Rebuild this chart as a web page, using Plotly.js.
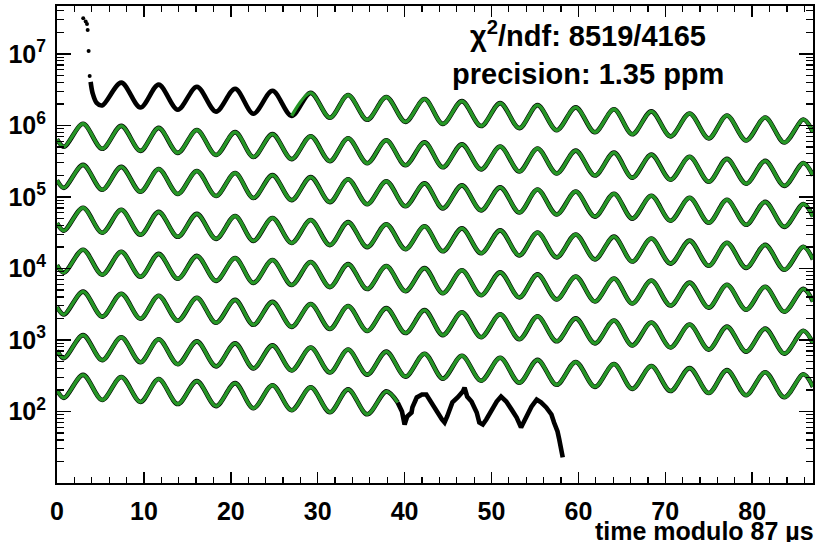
<!DOCTYPE html>
<html>
<head>
<meta charset="utf-8">
<script src="https://cdn.plot.ly/plotly-3.0.1.min.js"></script>
<style>html,body{margin:0;padding:0;background:#fff;}#chart{width:818px;height:542px;}</style>
</head>
<body>
<div id="chart"></div>
<script>
// ---- data (time in µs modulo 87, counts) ----
const extremaTimes = [0, 0.8, 3.0, 5.2, 7.4, 9.6, 11.7, 13.9, 16.1, 18.3, 20.5, 22.6, 24.8, 27.0, 29.2, 31.4, 33.5, 35.7, 37.9, 40.1, 42.3, 44.4, 46.6, 48.8, 51.0, 53.2, 55.3, 57.5, 59.7, 61.9, 64.1, 66.2, 68.4, 70.6, 72.8, 75.0, 77.1, 79.3, 81.5, 83.7, 85.9, 87.0];

const row1EarlyTimes = [3.02, 3.30, 3.45, 3.53, 3.64, 3.76];
const row1EarlyCounts = [3.15e7, 2.83e7, 2.62e7, 2.16e7, 1.10e7, 4.93e6];

const row1Times = [3.87, 4.1, 4.56, 5.2, 7.4, 9.6, 11.7, 13.9, 16.1, 18.3, 20.5, 22.6, 24.8, 27.0, 29.2, 31.4, 33.5, 35.7, 37.9, 40.1, 42.3, 44.4, 46.6, 48.8, 51.0, 53.2, 55.3, 57.5, 59.7, 61.9, 64.1, 66.2, 68.4, 70.6, 72.8, 75.0, 77.1, 79.3, 81.5, 83.7, 85.9, 87.0];
const row1Counts = [4060000, 2820000, 2070000, 1900000, 3970000, 1780000, 3720000, 1660000, 3480000, 1560000, 3260000, 1460000, 3050000, 1360000, 2850000, 1280000, 2670000, 1200000, 2500000, 1120000, 2340000, 1050000, 2190000, 980000, 2050000, 916000, 1920000, 858000, 1790000, 803000, 1680000, 752000, 1570000, 703000, 1470000, 658000, 1380000, 616000, 1290000, 576000, 1210000, 805000];
const row1FitStart = 27.0;

const row2Counts = [641000, 503000, 1053000, 471000, 985000, 441000, 923000, 413000, 863000, 386000, 807000, 362000, 756000, 338000, 707000, 316000, 663000, 296000, 620000, 277000, 580000, 260000, 543000, 243000, 508000, 227000, 476000, 213000, 445000, 199000, 416000, 186000, 390000, 174000, 364000, 163000, 341000, 153000, 319000, 143000, 299000, 200000];
const row3Counts = [171000, 134000, 281000, 126000, 263000, 118000, 246000, 110000, 231000, 103000, 216000, 96600, 202000, 90300, 189000, 84500, 177000, 79100, 166000, 74000, 155000, 69300, 145000, 64900, 136000, 60600, 127000, 56800, 119000, 53100, 111000, 49800, 104000, 46500, 97400, 43500, 91200, 40800, 85300, 38200, 79800, 53300];
const row4Counts = [43000, 33800, 70700, 31600, 66100, 29600, 61900, 27700, 57900, 25900, 54200, 24300, 50800, 22700, 47500, 21200, 44500, 19900, 41600, 18600, 38900, 17400, 36400, 16300, 34100, 15200, 31900, 14300, 29900, 13400, 27900, 12500, 26200, 11700, 24500, 10900, 22900, 10200, 21400, 9590, 20100, 13400];
const row5Counts = [11100, 8740, 18300, 8180, 17100, 7650, 16000, 7170, 15000, 6700, 14000, 6280, 13100, 5870, 12300, 5490, 11500, 5150, 10800, 4810, 10100, 4510, 9430, 4220, 8820, 3940, 8260, 3690, 7730, 3450, 7230, 3240, 6770, 3030, 6330, 2830, 5930, 2650, 5550, 2480, 5190, 3460];
const row6Counts = [2890, 2268, 4745, 2122, 4438, 1985, 4158, 1859, 3889, 1739, 3638, 1629, 3408, 1524, 3187, 1425, 2986, 1335, 2792, 1249, 2612, 1169, 2446, 1094, 2288, 1023, 2143, 958, 2004, 896, 1875, 840, 1756, 785, 1642, 734, 1538, 688, 1439, 644, 1346, 899];
const row7Counts = [711, 558, 1168, 522, 1092, 488, 1023, 458, 957, 428, 895, 401, 839, 375, 784, 351, 735, 328, 687, 307, 643, 288, 602, 269, 563, 252, 527, 236, 493, 221, 461, 207, 432, 193, 404, 181, 379, 169, 354, 158, 331, 221];

const row8Times = [0, 0.8, 3.0, 5.2, 7.4, 9.6, 11.7, 13.9, 16.1, 18.3, 20.5, 22.6, 24.8, 27.0, 29.2, 31.4, 33.5, 35.7, 37.9, 39.2, 39.7, 40.0, 40.3, 40.8, 40.9, 41.4, 42.0, 42.5, 42.9, 43.4, 43.8, 44.3, 44.6, 44.9, 45.2, 45.5, 46.1, 46.7, 46.9, 47.2, 47.7, 48.3, 48.6, 49.0, 49.4, 50.0, 50.6, 51.1, 51.7, 52.3, 52.9, 53.4, 54.0, 54.6, 55.2, 55.7, 56.3, 56.9, 57.2, 57.6, 57.8, 58.0, 58.2];
const row8Counts = [198, 155, 325, 145, 304, 136, 284, 127, 266, 119, 249, 111, 233, 104, 218, 97.5, 204, 91.3, 191, 134, 100, 65.8, 85.1, 96.8, 114, 157, 173, 173, 147, 114, 96.8, 77.3, 70.2, 85.1, 114, 134, 157, 190, 216, 162, 138, 96.8, 70.2, 65.8, 77.3, 107, 138, 162, 138, 107, 82.4, 59.8, 85.1, 117, 147, 134, 114, 90.8, 70.2, 52.6, 40.6, 31.4, 22.8];
const row8FitEnd = 39.2;

const yTickVals = [1e2, 1e3, 1e4, 1e5, 1e6, 1e7];
const yTickText = ['10<sup>2</sup>', '10<sup>3</sup>', '10<sup>4</sup>', '10<sup>5</sup>', '10<sup>6</sup>', '10<sup>7</sup>'];
const chiText = 'χ<sup>2</sup>/ndf: 8519/4165';
const precisionText = 'precision: 1.35 ppm';
const xTitleText = 'time modulo 87 µs';

// ---- styling ----
const GREEN = 'rgb(38,150,38)';
const DATA_W = 4.6;
const FIT_W = 3.4;
const FONT = 'Liberation Sans, Arial, Helvetica, sans-serif';

function dataTrace(x, y, shape) {
  return {x: x, y: y, type: 'scatter', mode: 'lines', showlegend: false, hoverinfo: 'skip',
          line: {color: '#000', width: DATA_W, shape: shape || 'spline', smoothing: 0.9}};
}
function fitTrace(x, y) {
  return {x: x, y: y, type: 'scatter', mode: 'lines', showlegend: false, hoverinfo: 'skip',
          line: {color: GREEN, width: FIT_W, shape: 'spline', smoothing: 0.9}};
}

const fullRows = [row2Counts, row3Counts, row4Counts, row5Counts, row6Counts, row7Counts];

const traces = [];
// data (black)
traces.push({x: row1EarlyTimes, y: row1EarlyCounts, type: 'scatter', mode: 'markers', showlegend: false,
             hoverinfo: 'skip', marker: {color: '#000', size: 4}});
traces.push(dataTrace(row1Times, row1Counts));
fullRows.forEach(r => traces.push(dataTrace(extremaTimes, r)));
// row 8: smooth part under the fit, jagged part after the fit ends
const r8ax = [], r8ay = [], r8bx = [], r8by = [];
row8Times.forEach((t, i) => {
  if (t <= row8FitEnd) { r8ax.push(t); r8ay.push(row8Counts[i]); }
  if (t >= row8FitEnd) { r8bx.push(t); r8by.push(row8Counts[i]); }
});
traces.push(dataTrace(r8ax, r8ay));
traces.push(dataTrace(r8bx, r8by, 'linear'));
// fits (green)
const r1fx = [], r1fy = [];
row1Times.forEach((t, i) => { if (t >= row1FitStart) { r1fx.push(t); r1fy.push(row1Counts[i]); } });
traces.push(fitTrace(r1fx, r1fy));
fullRows.forEach(r => traces.push(fitTrace(extremaTimes, r)));
traces.push(fitTrace(r8ax, r8ay));

const tickFont = {family: FONT, size: 25, color: '#000', weight: 'bold'};

const layout = {
  width: 818, height: 542,
  margin: {l: 57, r: 5, t: 6, b: 59, pad: 0},
  paper_bgcolor: '#fff', plot_bgcolor: '#fff',
  showlegend: false,
  xaxis: {
    range: [0, 87], tick0: 0, dtick: 10, ticks: 'inside', ticklen: 11, tickwidth: 1.5, tickcolor: '#000',
    showline: true, linecolor: '#000', linewidth: 2, mirror: 'allticks',
    showgrid: false, zeroline: false, tickfont: tickFont, ticklabelstandoff: 5,
    minor: {dtick: 2, ticks: 'inside', ticklen: 6, tickwidth: 1.2, tickcolor: '#000', showgrid: false}
  },
  yaxis: {
    type: 'log', range: [1, 7.67], tickmode: 'array', tickvals: yTickVals, ticktext: yTickText,
    ticks: 'inside', ticklen: 14, tickwidth: 1.5, tickcolor: '#000',
    showline: true, linecolor: '#000', linewidth: 2, mirror: 'allticks',
    showgrid: false, zeroline: false, tickfont: tickFont, ticklabelstandoff: 4,
    minor: {dtick: 'D1', ticks: 'inside', ticklen: 7, tickwidth: 1.2, tickcolor: '#000', showgrid: false}
  },
  annotations: [
    {text: chiText, xref: 'paper', yref: 'paper', x: 0.7024, y: 0.9413, xanchor: 'center', yanchor: 'middle',
     showarrow: false, font: {family: FONT, size: 29, color: '#000', weight: 'bold'}},
    {text: precisionText, xref: 'paper', yref: 'paper', x: 0.7024, y: 0.8574, xanchor: 'center', yanchor: 'middle',
     showarrow: false, font: {family: FONT, size: 29, color: '#000', weight: 'bold'}},
    {text: xTitleText, xref: 'paper', yref: 'paper', x: 1, y: -0.1000, xanchor: 'right', yanchor: 'middle', xshift: 3,
     showarrow: false, font: {family: FONT, size: 25, color: '#000', weight: 'bold'}}
  ]
};

Plotly.newPlot('chart', traces, layout, {displayModeBar: false, staticPlot: true});
</script>
</body>
</html>
